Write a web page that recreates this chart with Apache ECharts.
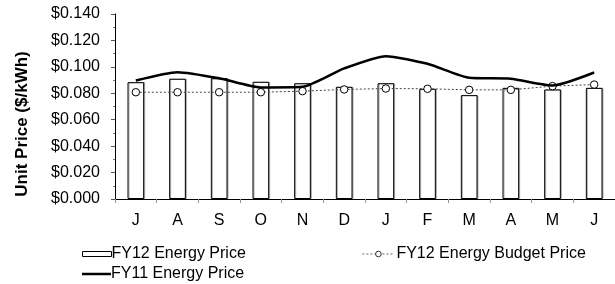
<!DOCTYPE html>
<html><head><meta charset="utf-8">
<script src="https://cdn.jsdelivr.net/npm/echarts@6/dist/echarts.min.js"></script>
<style>html,body{margin:0;padding:0;background:#fff}#c{width:615px;height:284px}</style>
</head><body><div id="c"></div>
<script>
const months = ['J','A','S','O','N','D','J','F','M','A','M','J'];
const fy12Energy = [0.0884,0.0910,0.0914,0.0887,0.0876,0.0849,0.0876,0.0834,0.0786,0.0841,0.0829,0.0841];
const fy12Budget = [0.0808,0.0808,0.0808,0.0808,0.0816,0.0829,0.0836,0.0834,0.0826,0.0826,0.0854,0.0866];
const fy11Energy = [0.0897,0.0960,0.0914,0.0844,0.0849,0.0988,0.1081,0.1023,0.0917,0.0910,0.0859,0.0957];
const yMin = 0, yMax = 0.14, yStep = 0.02;
const yTitle = 'Unit Price ($/kWh)';

const font = "'Liberation Sans', Arial, sans-serif";
const chart = echarts.init(document.getElementById('c'));
chart.setOption({
  animation: false,
  textStyle: {fontFamily: font},
  grid: {left: 115, right: -6, top: 14, bottom: 85},
  graphic: [{
    type: 'text', x: 22, y: 124, rotation: Math.PI / 2,
    style: {text: yTitle, fontSize: 17, fontWeight: 'bold', fill: '#000', fontFamily: font,
      align: 'center', verticalAlign: 'middle'}
  }],
  legend: [
    {data: ['FY12 Energy Price'], left: 77, top: 241, icon: 'rect', itemWidth: 29, itemHeight: 5,
     itemStyle: {color: '#fff', borderColor: '#000', borderWidth: 1, shadowColor: 'transparent', shadowOffsetX: 0},
     textStyle: {fontSize: 16, color: '#000', fontFamily: font, padding: [0,0,0,-5]}},
    {data: ['FY12 Energy Budget Price'], left: 357, top: 241, itemWidth: 32, itemHeight: 7,
     itemStyle: {borderWidth: 0.8},
     lineStyle: {width: 0.8},
     textStyle: {fontSize: 16, color: '#000', fontFamily: font, padding: [0,0,0,-3]}},
    {data: ['FY11 Energy Price'], left: 77, top: 261, icon: 'rect', itemWidth: 29, itemHeight: 2.5,
     itemStyle: {color: '#000', borderWidth: 0},
     textStyle: {fontSize: 16, color: '#000', fontFamily: font, padding: [0,0,0,-5]}}
  ],
  xAxis: {
    type: 'category', data: months,
    axisLine: {lineStyle: {color: '#000', width: 1}},
    axisTick: {show: true, length: 4, lineStyle: {color: '#999'}},
    axisLabel: {fontSize: 16, color: '#000', margin: 14, fontFamily: font}
  },
  yAxis: {
    type: 'value', min: yMin, max: yMax, interval: yStep,
    axisLine: {show: true, lineStyle: {color: '#000', width: 1}},
    axisTick: {show: true, length: 4, lineStyle: {color: '#555'}},
    minorTick: {show: true, splitNumber: 2, length: 2, lineStyle: {color: '#777'}},
    splitLine: {show: false},
    axisLabel: {fontSize: 16, color: '#000', margin: 15, fontFamily: font,
      formatter: v => '$' + v.toFixed(3)}
  },
  series: [
    {name: 'FY12 Energy Price', type: 'bar', data: fy12Energy, barWidth: '40%',
     itemStyle: {color: '#fff', borderColor: '#000', borderWidth: 1,
       shadowColor: '#aaa', shadowOffsetX: 1, shadowBlur: 0}},
    {name: 'FY12 Energy Budget Price', type: 'line', data: fy12Budget,
     symbol: 'circle', symbolSize: 7.5,
     itemStyle: {color: '#fff', borderColor: '#000', borderWidth: 1},
     lineStyle: {color: '#444', width: 1, type: [2, 2]}, z: 3},
    {name: 'FY11 Energy Price', type: 'line', data: fy11Energy, symbol: 'none',
     smooth: 0.2,
     lineStyle: {color: '#000', width: 2.5}, itemStyle: {color: '#000'}, z: 4}
  ]
});
</script></body></html>
